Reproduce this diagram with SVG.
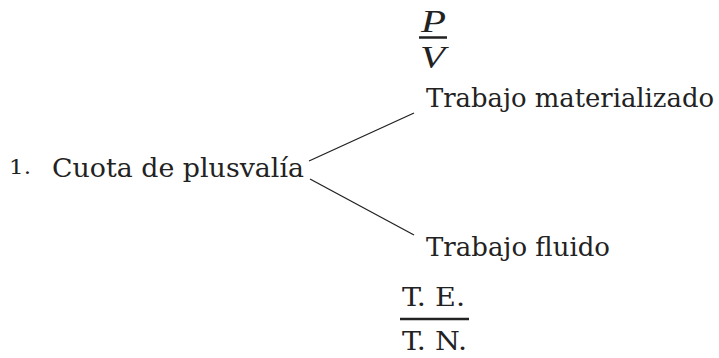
<svg xmlns="http://www.w3.org/2000/svg" width="719" height="358" viewBox="0 0 719 358">
<style>
text{font-family:"DejaVu Serif","Liberation Serif",serif;fill:#222;}
.t{font-size:26.5px;}
.m{font-family:"DejaVu Serif Condensed","DejaVu Serif",serif;font-size:26px;}
.i{font-family:"Liberation Serif",serif;font-size:31px;font-style:italic;}
.n{font-size:20px;}
.f{stroke:#222;stroke-width:2.5;}
.c{stroke:#222;stroke-width:1.3;fill:none;}
</style>
<rect width="719" height="358" fill="#fff"/>
<g id="root">
<text class="n" x="9" y="174" textLength="22" lengthAdjust="spacingAndGlyphs">1.</text>
<text class="t" x="52" y="177" textLength="252" lengthAdjust="spacingAndGlyphs">Cuota de plusvalía</text>
</g>
<g id="materializado">
<text class="i" x="421" y="32" textLength="25" lengthAdjust="spacingAndGlyphs">P</text>
<line class="f" x1="419" y1="37.5" x2="447" y2="37.5"/>
<text class="i" x="420" y="68" textLength="25" lengthAdjust="spacingAndGlyphs">V</text>
<text class="m" x="426" y="107" textLength="288" lengthAdjust="spacingAndGlyphs">Trabajo materializado</text>
</g>
<g id="fluido">
<text class="t" x="426" y="256" textLength="184" lengthAdjust="spacingAndGlyphs">Trabajo fluido</text>
<text class="t" x="402" y="306" textLength="63" lengthAdjust="spacingAndGlyphs">T. E.</text>
<line class="f" x1="400" y1="319" x2="469" y2="319"/>
<text class="t" x="402" y="350" textLength="65" lengthAdjust="spacingAndGlyphs">T. N.</text>
</g>
<g id="connectors">
<line class="c" x1="309" y1="161" x2="414" y2="113"/>
<line class="c" x1="310" y1="179" x2="414" y2="235"/>
</g>
</svg>
